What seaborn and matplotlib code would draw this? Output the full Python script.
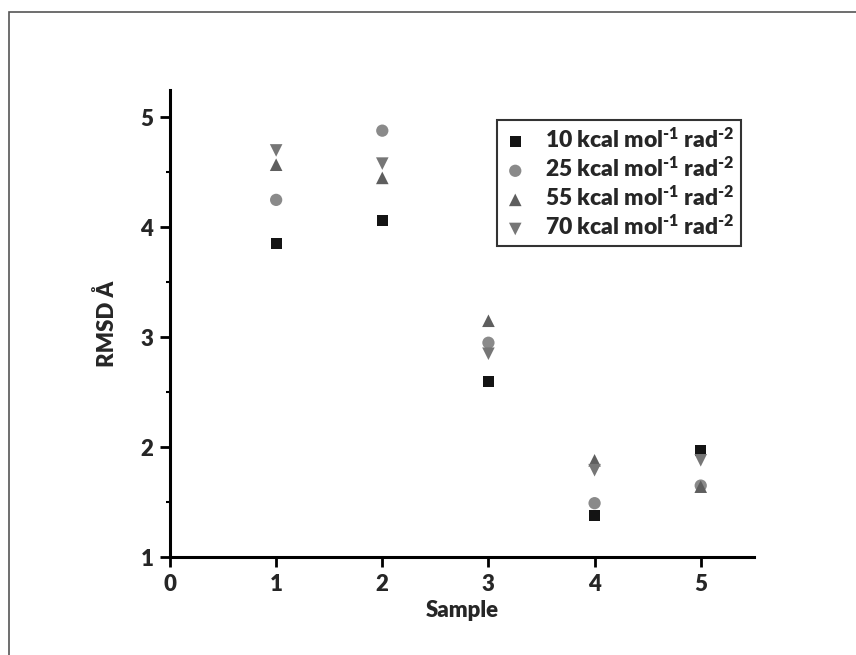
import pandas as pd
import numpy as np
import seaborn as sns
from matplotlib import pyplot as plt
from matplotlib import rcParams
from matplotlib.patches import Rectangle
from matplotlib.ticker import MultipleLocator

sns.set_style("white")
rcParams['font.family'] = ['Lato', 'DejaVu Sans']
rcParams['font.weight'] = 'heavy'
rcParams['axes.labelweight'] = 'heavy'
rcParams['mathtext.fontset'] = 'custom'
rcParams['mathtext.rm'] = 'Lato:heavy'
rcParams['mathtext.bf'] = 'Lato:heavy'
rcParams['mathtext.default'] = 'bf'

# RMSD per sample for each restraint force constant
samples = [1, 2, 3, 4, 5]
rmsd_10 = [3.85, 4.06, 2.60, 1.38, 1.97]
rmsd_25 = [4.25, 4.88, 2.95, 1.49, 1.65]
rmsd_55 = [4.57, 4.45, 3.15, 1.88, 1.64]
rmsd_70 = [4.70, 4.58, 2.85, 1.79, 1.88]
labels = [r'10 kcal mol$^{\text{-1}}$ rad$^{\text{-2}}$', r'25 kcal mol$^{\text{-1}}$ rad$^{\text{-2}}$',
          r'55 kcal mol$^{\text{-1}}$ rad$^{\text{-2}}$', r'70 kcal mol$^{\text{-1}}$ rad$^{\text{-2}}$']

series = [rmsd_10, rmsd_25, rmsd_55, rmsd_70]
markers = ['s', 'o', '^', 'v']
colors = ['#141414', '#8a8a8a', '#5e5e5e', '#767676']
sizes = [62, 78, 82, 82]

data = pd.concat([pd.DataFrame({'Sample': samples, 'RMSD': vals, 'force': lab})
                  for vals, lab in zip(series, labels)], ignore_index=True)

fig = plt.figure(figsize=(8.56, 6.55), dpi=100)
ax = fig.add_axes([0.1986, 0.1496, 0.682, 0.713])

for lab, m, c, s in zip(labels, markers, colors, sizes):
    sns.scatterplot(data=data[data['force'] == lab], x='Sample', y='RMSD', ax=ax,
                    marker=m, color=c, s=s, edgecolor='none', label=lab)

ax.set_xlim(0, 5.5)
ax.set_ylim(1, 5.25)
ax.xaxis.set_major_locator(MultipleLocator(1))
ax.yaxis.set_major_locator(MultipleLocator(1))
ax.yaxis.set_minor_locator(MultipleLocator(0.5))
ax.spines['top'].set_visible(False)
ax.spines['right'].set_visible(False)
for sp in ['left', 'bottom']:
    ax.spines[sp].set_linewidth(2.2)
    ax.spines[sp].set_color('black')
ax.tick_params(axis='both', which='major', direction='out', length=7, width=2,
               color='black', labelsize=16, pad=5, left=True, bottom=True)
ax.tick_params(axis='y', which='minor', direction='out', length=3, width=1.5,
               color='black', left=True)
plt.setp(ax.get_xticklabels() + ax.get_yticklabels(), fontweight='heavy')
ax.set_xlabel('Sample', fontsize=16, fontweight='heavy', labelpad=4)
ax.set_ylabel('RMSD Å', fontsize=16, fontweight='heavy', labelpad=16)

leg = ax.legend(loc='upper left', bbox_to_anchor=(0.56, 0.935), frameon=True,
                fancybox=False, edgecolor='black', fontsize=16.5, handletextpad=0.8,
                borderpad=0.3, labelspacing=0.2, handlelength=1.0, borderaxespad=0)
leg.get_frame().set_linewidth(1.5)

# thin frame around the whole picture
fig.patches.append(Rectangle((9 / 856, -0.01), 1.0, 1 - 12 / 655 + 0.01,
                             transform=fig.transFigure, fill=False,
                             edgecolor='#555555', linewidth=1.2))

fig.savefig('out.png', dpi=100)
